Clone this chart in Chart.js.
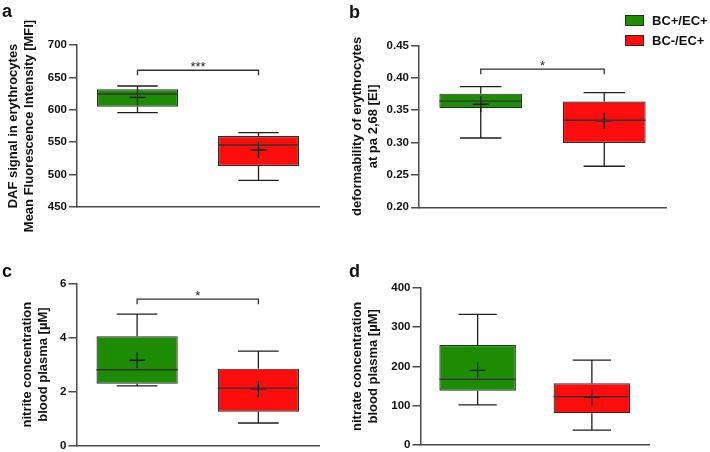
<!DOCTYPE html>
<html><head><meta charset="utf-8">
<script src="https://cdn.jsdelivr.net/npm/chart.js@4.4.1/dist/chart.umd.min.js"></script>
<style>
html,body{margin:0;padding:0;background:#fff;overflow:hidden;width:710px;height:452px;position:relative;}
canvas{position:absolute;}
.lbl{position:absolute;font-family:'Liberation Sans',Arial,Helvetica,sans-serif;font-weight:bold;color:#111;white-space:nowrap;}
.sq{position:absolute;width:17px;height:9px;border:1px solid #2b2b2b;}
</style></head><body>
<canvas id="ca" width="340" height="245" style="left:0;top:0"></canvas>
<canvas id="cb" width="370" height="235" style="left:340px;top:0"></canvas>
<canvas id="cc" width="340" height="240" style="left:0;top:226px"></canvas>
<canvas id="cd" width="370" height="240" style="left:340px;top:226px"></canvas>

<div class="lbl" style="left:2px;top:2px;font-size:18px;line-height:18px">a</div>
<div class="lbl" style="left:349px;top:3px;font-size:18px;line-height:18px">b</div>
<div class="lbl" style="left:2px;top:262px;font-size:18px;line-height:18px">c</div>
<div class="lbl" style="left:349px;top:262px;font-size:18px;line-height:18px">d</div>

<div class="sq" style="left:625px;top:15px;background:#1e8c00"></div>
<div class="lbl" style="left:652px;top:13.5px;font-size:13px;line-height:13px">BC+/EC+</div>
<div class="sq" style="left:625px;top:35px;background:#ff0d0d"></div>
<div class="lbl" style="left:652px;top:33.5px;font-size:13px;line-height:13px">BC-/EC+</div>

<script>
// ---------------- DATA ----------------
const categories = ['BC+/EC+', 'BC-/EC+'];

// a: DAF signal (MFI)
const dafMin    = [595.5, 491.2];
const dafQ1     = [604.8, 513.3];
const dafMedian = [624.4, 545.7];
const dafQ3     = [631.6, 559.6];
const dafMax    = [636.7, 564.7];
const dafMean   = [619.3, 538.0];
const dafTicks  = [450, 500, 550, 600, 650, 700];

// b: deformability (EI)
const defMin    = [0.3071, 0.2634];
const defQ1     = [0.3531, 0.2994];
const defMedian = [0.3639, 0.3345];
const defQ3     = [0.3756, 0.3633];
const defMax    = [0.3865, 0.3772];
const defMean   = [0.3592, 0.3334];
const defTicks  = [0.20, 0.25, 0.30, 0.35, 0.40, 0.45];

// c: nitrite (µM)
const nitriteMin    = [2.21, 0.84];
const nitriteQ1     = [2.29, 1.26];
const nitriteMedian = [2.81, 2.13];
const nitriteQ3     = [4.05, 2.85];
const nitriteMax    = [4.87, 3.50];
const nitriteMean   = [3.16, 2.10];
const nitriteTicks  = [0, 2, 4, 6];

// d: nitrate (µM)
const nitrateMin    = [102, 38];
const nitrateQ1     = [138, 81];
const nitrateMedian = [167, 123];
const nitrateQ3     = [254, 157];
const nitrateMax    = [332, 216];
const nitrateMean   = [190, 121];
const nitrateTicks  = [0, 100, 200, 300, 400];

// significance brackets
const sigText   = ['***', '*', '*', null];
const sigLevel  = [661, 0.4134, 5.42, null];

// ---------------- STYLE ----------------
const FONT = "'Liberation Sans', Arial, Helvetica, sans-serif";
const GREEN = '#1e8c00', RED = '#ff0d0d';
const AX = '#4a4a4a', INK = '#1e1e1e';

const boxPlugin = {
  id: 'boxWhiskers',
  afterDatasetsDraw(chart, args, opts) {
    const ctx = chart.ctx, ys = chart.scales.y;
    const meta = chart.getDatasetMeta(1);
    const s = opts.stats;
    ctx.save();
    ctx.strokeStyle = INK; ctx.lineWidth = 1.3; ctx.lineCap = 'butt';
    const line = (x1, y1, x2, y2) => { ctx.beginPath(); ctx.moveTo(x1, y1); ctx.lineTo(x2, y2); ctx.stroke(); };
    for (let i = 0; i < s.min.length; i++) {
      const bar = meta.data[i];
      const cx = bar.x, hw = bar.width / 2, cw = hw / 2;
      const pMin = ys.getPixelForValue(s.min[i]), pQ1 = ys.getPixelForValue(s.q1[i]);
      const pQ3 = ys.getPixelForValue(s.q3[i]), pMax = ys.getPixelForValue(s.max[i]);
      const pMed = ys.getPixelForValue(s.median[i]);
      line(cx, pQ3, cx, pMax); line(cx - cw, pMax, cx + cw, pMax);
      line(cx, pQ1, cx, pMin); line(cx - cw, pMin, cx + cw, pMin);
      ctx.strokeStyle = '#333';
      line(cx - hw, pMed, cx + hw, pMed);
      ctx.strokeStyle = INK;
    }
    if (opts.sig) {
      const x0 = meta.data[0].x, x1 = meta.data[1].x;
      const py = ys.getPixelForValue(opts.sigLevel);
      ctx.strokeStyle = '#333'; ctx.lineWidth = 1.3;
      ctx.beginPath();
      ctx.moveTo(x0, py + 5); ctx.lineTo(x0, py); ctx.lineTo(x1, py); ctx.lineTo(x1, py + 5);
      ctx.stroke();
      ctx.fillStyle = '#222';
      ctx.font = '13px ' + FONT;
      ctx.textAlign = 'center'; ctx.textBaseline = 'alphabetic';
      ctx.fillText(opts.sig, (x0 + x1) / 2, py + 0.5);
    }
    ctx.restore();
  }
};

function makePanel(id, p) {
  const el = document.getElementById(id);
  return new Chart(el, {
    type: 'bar',
    data: {
      labels: categories,
      datasets: [
        { type: 'line', data: p.mean, showLine: false, pointStyle: 'cross', pointRadius: 8,
          pointBorderColor: INK, pointBackgroundColor: INK, pointBorderWidth: 1.3, order: 0 },
        { type: 'bar', data: p.q1.map((v, i) => [v, p.q3[i]]), backgroundColor: [GREEN, RED],
          borderColor: '#2b2b2b', borderWidth: 1.2, borderSkipped: false,
          categoryPercentage: 1, barPercentage: 0.67, order: 1 }
      ]
    },
    options: {
      responsive: false, animation: false, events: [],
      layout: { padding: p.pad },
      plugins: {
        legend: { display: false }, tooltip: { enabled: false },
        boxWhiskers: { stats: p, sig: p.sig, sigLevel: p.sigLevel }
      },
      scales: {
        x: { offset: true, grid: { display: false }, ticks: { display: false },
             border: { display: true, color: AX, width: 1.5 },
             afterFit: s => { s.height = 0; } },
        y: { min: p.ticks[0], max: p.ticks[p.ticks.length - 1],
             ticks: { stepSize: p.ticks[1] - p.ticks[0], padding: 2, color: '#111',
                      font: { family: FONT, size: 11.5, weight: 'bold' },
                      callback: v => p.dec ? Number(v).toFixed(p.dec) : String(Math.round(v)) },
             grid: { drawOnChartArea: false, drawTicks: true, tickLength: 8, color: AX, lineWidth: 1.5 },
             border: { display: true, color: AX, width: 1.5 },
             title: { display: true, text: p.title, color: '#111',
                      font: { family: FONT, size: 13, weight: 'bold', lineHeight: 1.25 },
                      padding: { top: 5, bottom: 0 } },
             afterFit: s => { s.width = p.yw; } }
      }
    },
    plugins: [boxPlugin]
  });
}

makePanel('ca', { min: dafMin, q1: dafQ1, median: dafMedian, q3: dafQ3, max: dafMax, mean: dafMean,
  ticks: dafTicks, dec: 0, title: ['DAF signal in erythrocytes', 'Mean Fluorescence Intensity [MFI]'],
  pad: { left: 0, right: 21, top: 45, bottom: 38 }, yw: 77, sig: sigText[0], sigLevel: sigLevel[0] });

makePanel('cb', { min: defMin, q1: defQ1, median: defMedian, q3: defQ3, max: defMax, mean: defMean,
  ticks: defTicks, dec: 2, title: ['deformability of erythrocytes', 'at pa 2,68 [EI]'],
  pad: { left: 4, right: 44, top: 45.5, bottom: 27.7 }, yw: 75, sig: sigText[1], sigLevel: sigLevel[1] });

makePanel('cc', { min: nitriteMin, q1: nitriteQ1, median: nitriteMedian, q3: nitriteQ3, max: nitriteMax, mean: nitriteMean,
  ticks: nitriteTicks, dec: 0, title: ['nitrite concentration', 'blood plasma [µM]'],
  pad: { left: 14, right: 21, top: 57.5, bottom: 20.3 }, yw: 62.5, sig: sigText[2], sigLevel: sigLevel[2] });

makePanel('cd', { min: nitrateMin, q1: nitrateQ1, median: nitrateMedian, q3: nitrateQ3, max: nitrateMax, mean: nitrateMean,
  ticks: nitrateTicks, dec: 0, title: ['nitrate concentration', 'blood plasma [µM]'],
  pad: { left: 4, right: 61, top: 61.7, bottom: 21 }, yw: 76.5, sig: sigText[3], sigLevel: sigLevel[3] });
</script>
</body></html>
